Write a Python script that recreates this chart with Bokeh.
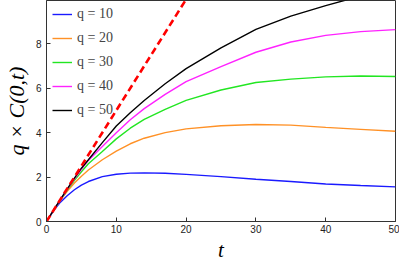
from bokeh.plotting import figure
from bokeh.models import Legend, LegendItem, FixedTicker, Range1d
from bokeh.embed import file_html
from bokeh.resources import INLINE

# time grid
t = [0, 1, 2, 3, 4, 5, 6, 8, 10, 12, 14, 17, 20, 25, 30, 35, 40, 45, 50]

q10 = [0, 0.48, 0.87, 1.17, 1.43, 1.64, 1.80, 2.02, 2.13, 2.18, 2.19, 2.17, 2.12, 2.02, 1.90, 1.80, 1.69, 1.62, 1.56]
q20 = [0, 0.50, 0.96, 1.37, 1.73, 2.04, 2.32, 2.78, 3.17, 3.50, 3.75, 4.00, 4.17, 4.31, 4.37, 4.34, 4.24, 4.15, 4.06]
q30 = [0, 0.50, 0.98, 1.43, 1.85, 2.24, 2.60, 3.15, 3.72, 4.20, 4.60, 5.05, 5.45, 5.92, 6.26, 6.41, 6.51, 6.55, 6.53]
q40 = [0, 0.50, 0.99, 1.46, 1.92, 2.35, 2.75, 3.38, 4.00, 4.58, 5.08, 5.72, 6.30, 6.97, 7.62, 8.08, 8.38, 8.55, 8.64]
q50 = [0, 0.50, 1.00, 1.48, 1.95, 2.40, 2.78, 3.55, 4.30, 4.90, 5.45, 6.20, 6.88, 7.82, 8.65, 9.25, 9.72, 10.15, 10.55]

# short-time asymptote q*C = t/2
t_lin = [0, 20]
y_lin = [0, 10]

series = [("q = 10", q10, "#1a1aff"),
          ("q = 20", q20, "#ff9126"),
          ("q = 30", q30, "#22e622"),
          ("q = 40", q40, "#ff22ff"),
          ("q = 50", q50, "#000000")]

x_ticks = [0, 10, 20, 30, 40, 50]
y_ticks = [0, 2, 4, 6, 8]

p = figure(width=399, height=264, output_backend="svg", toolbar_location=None,
           x_range=Range1d(0, 50), y_range=Range1d(0, 9.95),
           min_border_left=38, min_border_right=4, min_border_top=0, min_border_bottom=40)

items = []
for label, ys, col in series:
    r = p.line(t, ys, line_color=col, line_width=1.4)
    items.append(LegendItem(label=label, renderers=[r]))

p.line(t_lin, y_lin, line_color="#ff0000", line_width=2.6, line_dash="7 4")

p.grid.visible = False
p.outline_line_color = "#333333"
p.outline_line_width = 1

for ax in (p.xaxis[0], p.yaxis[0]):
    ax.axis_line_color = "#333333"
    ax.major_tick_in = 4
    ax.major_tick_out = 0
    ax.major_tick_line_color = "#333333"
    ax.minor_tick_line_color = None
    ax.major_label_text_font = "Liberation Sans"
    ax.major_label_text_font_size = "10px"
    ax.major_label_text_color = "#222222"
    ax.axis_label_text_font = "Liberation Serif"
    ax.axis_label_text_font_style = "italic"
    ax.axis_label_text_color = "#000000"

p.xaxis[0].ticker = FixedTicker(ticks=x_ticks)
p.yaxis[0].ticker = FixedTicker(ticks=y_ticks)
p.xaxis[0].axis_label = "t"
p.yaxis[0].axis_label = "q × C(0,t)"
p.xaxis[0].axis_label_text_font_size = "21px"
p.yaxis[0].axis_label_text_font_size = "22px"
p.xaxis[0].major_label_standoff = 3
p.yaxis[0].major_label_standoff = 5
p.xaxis[0].axis_label_standoff = 2
p.yaxis[0].axis_label_standoff = 4

legend = Legend(items=items, location="top_left")
legend.border_line_color = None
legend.background_fill_alpha = 0
legend.label_text_font = "Liberation Serif"
legend.label_text_font_size = "14px"
legend.glyph_width = 20
legend.glyph_height = 16
legend.label_height = 16
legend.spacing = 8
legend.padding = 2
legend.margin = 6
legend.label_standoff = 5
p.add_layout(legend)

open("out.html", "w").write(file_html(p, INLINE))
